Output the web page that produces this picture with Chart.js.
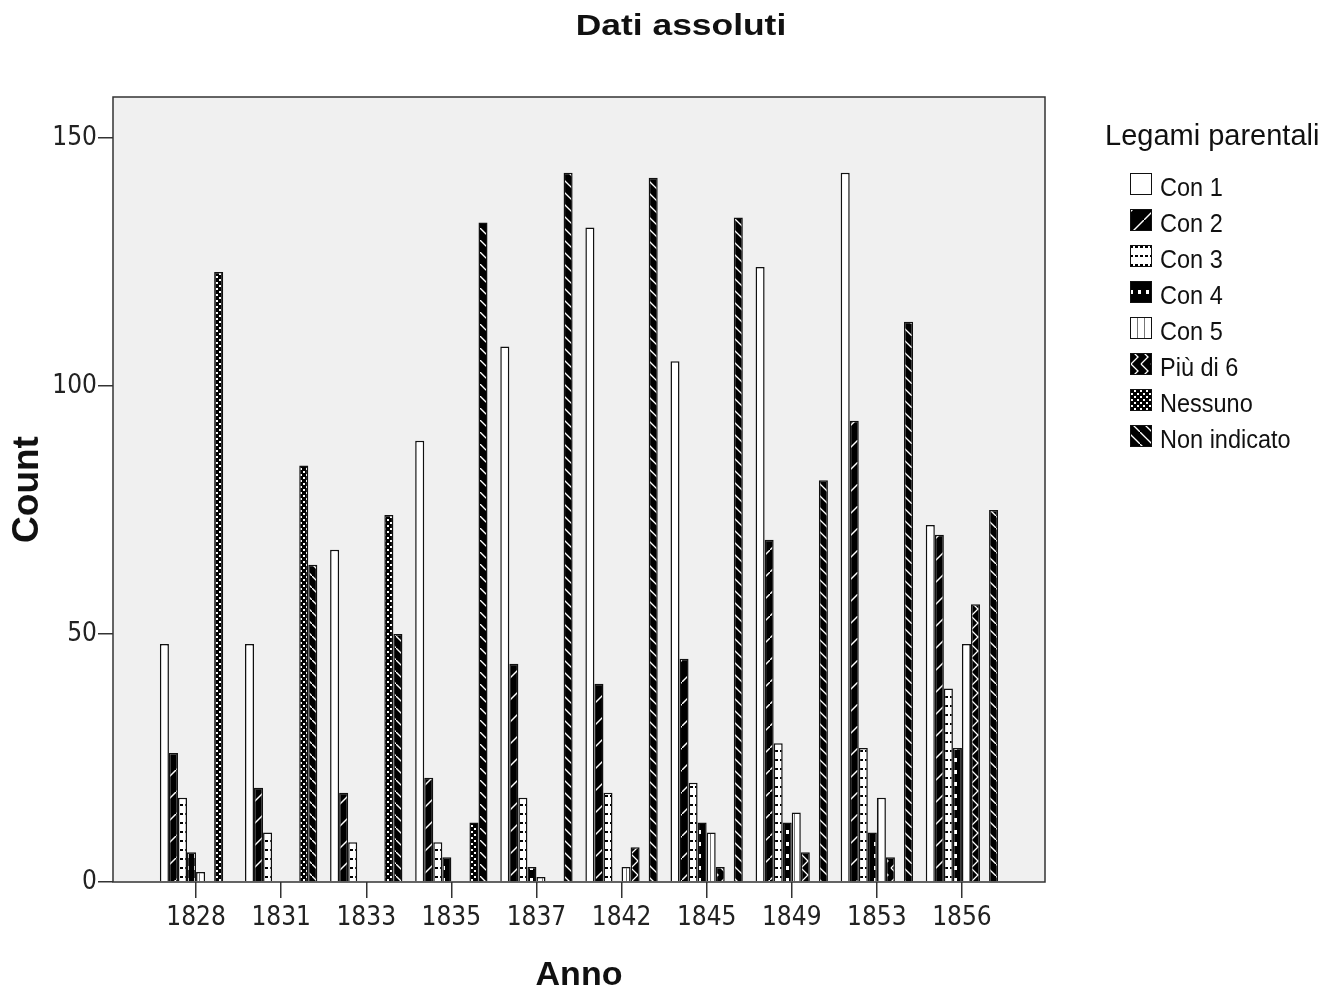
<!DOCTYPE html>
<html>
<head>
<meta charset="utf-8">
<script src="https://cdn.jsdelivr.net/npm/chart.js@4.4.1/dist/chart.umd.min.js"></script>
<style>
  html, body { margin: 0; padding: 0; background: #ffffff; }
  #wrap { width: 1344px; height: 996px; position: relative; }
</style>
</head>
<body>
<div id="wrap"><canvas id="chart-anni" width="1344" height="996"></canvas></div>
<script>
// categorie (anni) e serie
const years = ["1828", "1831", "1833", "1835", "1837", "1842", "1845", "1849", "1853", "1856"];
const seriesNames = ["Con 1", "Con 2", "Con 3", "Con 4", "Con 5", "Più di 6", "Nessuno", "Non indicato"];

const con1 = [48, 48, 67, 89, 108, 132, 105, 124, 143, 72];
const con2 = [26, 19, 18, 21, 44, 40, 45, 69, 93, 70];
const con3 = [17, 10, 8, 8, 17, 18, 20, 28, 27, 39];
const con4 = [6, 0, 0, 5, 3, 0, 12, 12, 10, 27];
const con5 = [2, 0, 0, 0, 1, 3, 10, 14, 17, 48];
const piuDi6 = [0, 0, 0, 0, 0, 7, 3, 6, 5, 56];
const nessuno = [123, 84, 74, 12, 0, 0, 0, 0, 0, 0];
const nonIndicato = [0, 64, 50, 133, 143, 142, 134, 81, 113, 75];

const yTicks = [0, 50, 100, 150];

const tickFamily = '"Liberation Sans Narrow", "DejaVu Sans Condensed", "Liberation Sans", sans-serif';
const textFamily = '"Liberation Sans", Arial, sans-serif';

// pattern in bianco e nero stile SPSS
function makePattern(w, h, draw) {
  const c = document.createElement("canvas");
  c.width = w;
  c.height = h;
  const g = c.getContext("2d");
  draw(g, w, h);
  return g.createPattern(c, "repeat");
}

function line(g, x1, y1, x2, y2) {
  g.beginPath();
  g.moveTo(x1, y1);
  g.lineTo(x2, y2);
  g.stroke();
}

const patterns = [
  "#ffffff",
  makePattern(22, 22, (g, w, h) => {
    g.fillStyle = "#000"; g.fillRect(0, 0, w, h);
    g.strokeStyle = "#fff"; g.lineWidth = 1.4;
    line(g, -2, h + 2, w + 2, -2);
  }),
  makePattern(5, 9, (g, w, h) => {
    g.fillStyle = "#fff"; g.fillRect(0, 0, w, h);
    g.fillStyle = "#000"; g.fillRect(0, 3, 3, 2);
  }),
  makePattern(8, 12, (g, w, h) => {
    g.fillStyle = "#000"; g.fillRect(0, 0, w, h);
    g.fillStyle = "#fff"; g.fillRect(2, 2, 3, 4);
  }),
  makePattern(7, 4, (g, w, h) => {
    g.fillStyle = "#fff"; g.fillRect(0, 0, w, h);
    g.fillStyle = "#777"; g.fillRect(3, 0, 1, h);
  }),
  makePattern(10, 14, (g, w, h) => {
    g.fillStyle = "#000"; g.fillRect(0, 0, w, h);
    g.strokeStyle = "#fff"; g.lineWidth = 1.3;
    g.beginPath(); g.moveTo(1, 0); g.lineTo(8, 7); g.lineTo(1, 14); g.stroke();
  }),
  makePattern(6, 6, (g, w, h) => {
    g.fillStyle = "#000"; g.fillRect(0, 0, w, h);
    g.fillStyle = "#fff"; g.fillRect(0, 0, 2, 2); g.fillRect(3, 3, 2, 2);
  }),
  makePattern(12, 12, (g, w, h) => {
    g.fillStyle = "#000"; g.fillRect(0, 0, w, h);
    g.strokeStyle = "#fff"; g.lineWidth = 1.3;
    line(g, -2, -2, w + 2, h + 2);
  }),
];

const seriesValues = [con1, con2, con3, con4, con5, piuDi6, nessuno, nonIndicato];

const datasets = seriesNames.map((name, k) => ({
  label: name,
  data: seriesValues[k].map((v, i) => ({ x: i, y: v })),
  backgroundColor: patterns[k],
  borderColor: "#111",
  borderWidth: 1.5,
  borderSkipped: "bottom",
  categoryPercentage: 0.85,
  barPercentage: 1.0,
}));

const plotDecor = {
  id: "plotDecor",
  beforeDatasetsDraw(chart) {
    const { ctx, chartArea: a } = chart;
    ctx.save();
    ctx.fillStyle = "#f0f0f0";
    ctx.fillRect(a.left, a.top, a.right - a.left, a.bottom - a.top);
    ctx.restore();
  },
  afterDatasetsDraw(chart) {
    const { ctx, chartArea: a } = chart;
    ctx.save();
    ctx.strokeStyle = "#333";
    ctx.lineWidth = 1.5;
    ctx.strokeRect(a.left, a.top, a.right - a.left, a.bottom - a.top);
    ctx.restore();
  },
  afterDraw(chart) {
    const ctx = chart.ctx;
    ctx.save();
    // titolo
    ctx.fillStyle = "#111";
    ctx.font = "bold 30px " + textFamily;
    ctx.textAlign = "center";
    ctx.textBaseline = "alphabetic";
    ctx.translate(681, 35);
    ctx.scale(1.18, 1);
    ctx.fillText("Dati assoluti", 0, 0);
    ctx.restore();

    // legenda
    ctx.save();
    ctx.fillStyle = "#111";
    ctx.font = "29px " + textFamily;
    ctx.textAlign = "left";
    ctx.textBaseline = "alphabetic";
    ctx.fillText("Legami parentali", 1105, 145);
    ctx.font = "25px " + textFamily;
    chart.data.datasets.forEach((ds, k) => {
      const top = 173 + k * 36;
      ctx.fillStyle = ds.backgroundColor;
      ctx.fillRect(1130, top, 22, 22);
      ctx.strokeStyle = "#111";
      ctx.lineWidth = 1;
      ctx.strokeRect(1130.5, top + 0.5, 21, 21);
      ctx.fillStyle = "#111";
      ctx.save();
      ctx.translate(1160, top + 23);
      ctx.scale(0.94, 1);
      ctx.fillText(ds.label, 0, 0);
      ctx.restore();
    });
    ctx.restore();
  },
};

new Chart(document.getElementById("chart-anni"), {
  type: "bar",
  data: { datasets },
  options: {
    responsive: false,
    animation: false,
    devicePixelRatio: 1,
    layout: { padding: { top: 97, right: 299, left: 0, bottom: 0 } },
    plugins: {
      legend: { display: false },
      tooltip: { enabled: false },
      title: { display: false },
    },
    scales: {
      x: {
        type: "linear",
        offset: false,
        min: -0.976,
        max: 9.976,
        afterBuildTicks: (s) => { s.ticks = years.map((y, i) => ({ value: i })); },
        afterFit: (s) => { s.height = 114; },
        ticks: {
          callback: (v) => years[v] ?? "",
          font: { family: tickFamily, size: 26 },
          color: "#222",
          padding: 5,
          maxRotation: 0,
          autoSkip: false,
        },
        grid: { offset: false, drawOnChartArea: false, drawTicks: true, tickLength: 16, color: "#333", lineWidth: 1.5 },
        border: { display: false },
        title: {
          display: true,
          text: "Anno",
          color: "#111",
          font: { family: textFamily, size: 34, weight: "bold" },
          padding: 0,
        },
      },
      y: {
        min: 0,
        max: 158.3,
        afterBuildTicks: (s) => { s.ticks = yTicks.map((v) => ({ value: v })); },
        afterFit: (s) => { s.width = 113; },
        ticks: {
          font: { family: tickFamily, size: 26 },
          color: "#222",
          padding: 1,
        },
        grid: { drawOnChartArea: false, drawTicks: true, tickLength: 15, color: "#333", lineWidth: 1.5 },
        border: { display: false },
        title: {
          display: true,
          text: "Count",
          color: "#111",
          font: { family: textFamily, size: 37, weight: "bold" },
          padding: { top: 6, bottom: 0 },
        },
      },
    },
  },
  plugins: [plotDecor],
});
</script>
</body>
</html>
